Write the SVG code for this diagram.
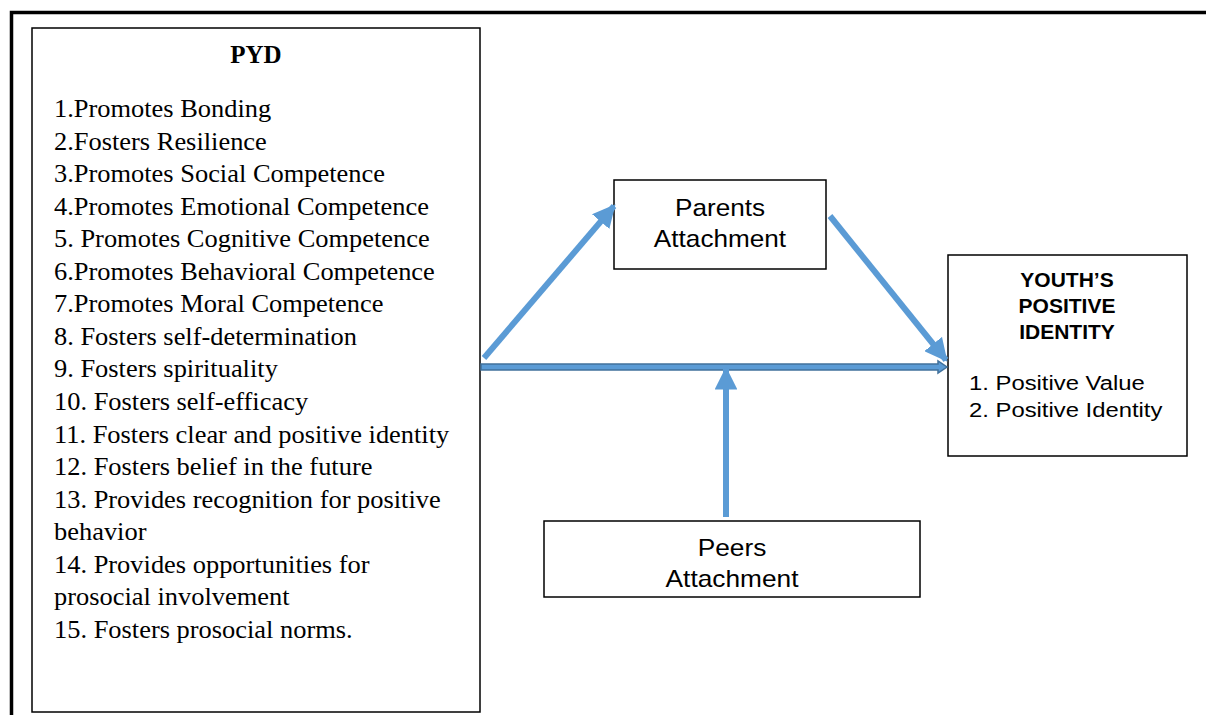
<svg xmlns="http://www.w3.org/2000/svg" width="1206" height="715" viewBox="0 0 1206 715">
<defs>
<style>
.box{fill:#fff;stroke:#000;stroke-width:1.5}
.ser{font-family:"Liberation Serif","Times New Roman",serif;font-size:25px;fill:#000}
.san{font-family:"Liberation Sans",Arial,sans-serif;fill:#000}
.conn{stroke:#5B9BD5;stroke-width:6;fill:none}
</style>
<marker id="ah" viewBox="0 0 10 10" refX="9" refY="5" markerWidth="3.8" markerHeight="3.8" orient="auto" markerUnits="strokeWidth">
<path d="M0,0 L10,5 L0,10 z" fill="#5B9BD5"/>
</marker>
</defs>
<rect width="1206" height="715" fill="#fff"/>
<g id="frame">
<path d="M11.5,715 L11.5,12.5 L1206,12.5" fill="none" stroke="#000" stroke-width="3.5"/>
</g>
<g id="pyd">
<rect class="box" x="32" y="28" width="448" height="684"/>
<text class="ser" x="256" y="63" text-anchor="middle" font-weight="bold">PYD</text>
<g transform="translate(54,0) scale(1.057,1)">
<text class="ser" x="0" y="117">1.Promotes Bonding</text>
<text class="ser" x="0" y="149.6">2.Fosters Resilience</text>
<text class="ser" x="0" y="182.1">3.Promotes Social Competence</text>
<text class="ser" x="0" y="214.7">4.Promotes Emotional Competence</text>
<text class="ser" x="0" y="247.2">5. Promotes Cognitive Competence</text>
<text class="ser" x="0" y="279.8">6.Promotes Behavioral Competence</text>
<text class="ser" x="0" y="312.4">7.Promotes Moral Competence</text>
<text class="ser" x="0" y="344.9">8. Fosters self-determination</text>
<text class="ser" x="0" y="377.5">9. Fosters spirituality</text>
<text class="ser" x="0" y="410">10. Fosters self-efficacy</text>
<text class="ser" x="0" y="442.6">11. Fosters clear and positive identity</text>
<text class="ser" x="0" y="475.2">12. Fosters belief in the future</text>
<text class="ser" x="0" y="507.7">13. Provides recognition for positive</text>
<text class="ser" x="0" y="540.3">behavior</text>
<text class="ser" x="0" y="572.8">14. Provides opportunities for</text>
<text class="ser" x="0" y="605.4">prosocial involvement</text>
<text class="ser" x="0" y="638">15. Fosters prosocial norms.</text>
</g>
</g>
<g id="parents">
<rect class="box" x="614" y="180" width="212" height="89"/>
<g transform="translate(720,0) scale(1.09,1)">
<text class="san" x="0" y="216" font-size="24" text-anchor="middle">Parents</text>
<text class="san" x="0" y="247" font-size="24" text-anchor="middle">Attachment</text>
</g>
</g>
<g id="youth">
<rect class="box" x="948" y="255" width="239" height="201"/>
<text class="san" x="1067" y="287" font-size="21" font-weight="bold" text-anchor="middle">YOUTH’S</text>
<text class="san" x="1067" y="313" font-size="21" font-weight="bold" text-anchor="middle">POSITIVE</text>
<text class="san" x="1067" y="339" font-size="21" font-weight="bold" text-anchor="middle">IDENTITY</text>
<g transform="translate(969,0) scale(1.135,1)">
<text class="san" x="0" y="390" font-size="21">1. Positive Value</text>
<text class="san" x="0" y="417" font-size="21">2. Positive Identity</text>
</g>
</g>
<g id="peers">
<rect class="box" x="544" y="521" width="376" height="76"/>
<g transform="translate(732,0) scale(1.095,1)">
<text class="san" x="0" y="556" font-size="24" text-anchor="middle">Peers</text>
<text class="san" x="0" y="587" font-size="24" text-anchor="middle">Attachment</text>
</g>
</g>
<g id="connectors">
<line class="conn" x1="484" y1="358" x2="614" y2="206" marker-end="url(#ah)"/>
<line class="conn" x1="830" y1="216" x2="946" y2="360" marker-end="url(#ah)"/>
<path d="M481,364 L938,364 L938,361 L947,367 L938,373 L938,370 L481,370 z" fill="#5B9BD5" stroke="#41719C" stroke-width="1.5"/>
<line class="conn" x1="726" y1="517" x2="726" y2="369" marker-end="url(#ah)"/>
</g>
</svg>
